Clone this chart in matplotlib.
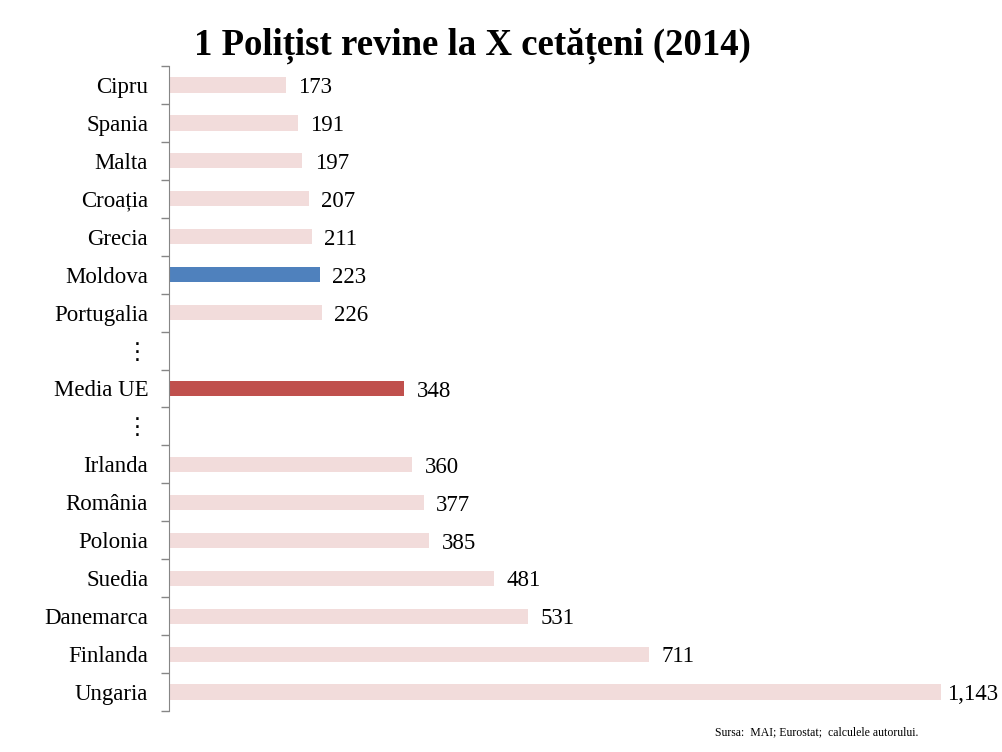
import matplotlib.pyplot as plt
import numpy as np

# Data
labels = ['Cipru', 'Spania', 'Malta', 'Croația', 'Grecia', 'Moldova', 'Portugalia',
          '⋮', 'Media UE', '⋮',
          'Irlanda', 'România', 'Polonia', 'Suedia', 'Danemarca', 'Finlanda', 'Ungaria']
values = [173, 191, 197, 207, 211, 223, 226,
          None, 348, None,
          360, 377, 385, 481, 531, 711, 1143]
colors = {'Moldova': '#4F81BD', 'Media UE': '#C0504D'}
default_color = '#F2DCDB'

fonts = ['Liberation Serif', 'DejaVu Serif', 'DejaVu Sans']
plt.rcParams['font.family'] = fonts

fig = plt.figure(figsize=(10.02, 7.52), dpi=100)
ax = fig.add_axes([169 / 1002, 41 / 752, 829 / 1002, 645 / 752])

y = np.arange(len(labels))
xmax = 829 / (772 / 1143)
for i, (lab, v) in enumerate(zip(labels, values)):
    if v is None:
        continue
    ax.barh(i, v, height=0.4, color=colors.get(lab, default_color))
    txt = f'{v:,}'
    if v == max(x for x in values if x is not None):
        ax.annotate(txt, (xmax, i), xytext=(0, -2), textcoords='offset points',
                    ha='right', va='center', fontsize=16.5)
    else:
        ax.annotate(txt, (v, i), xytext=(9, -2), textcoords='offset points',
                    ha='left', va='center', fontsize=16.5)

ax.set_ylim(len(labels) - 0.5, -0.5)
ax.set_xlim(0, xmax)
ax.set_yticks(y)
ax.set_yticklabels(labels, fontsize=16.5)
ax.set_yticks(np.arange(-0.5, len(labels)), minor=True)
ax.tick_params(axis='y', which='major', length=0, pad=15)
ax.tick_params(axis='y', which='minor', length=6, color='#868686', width=1)
ax.set_xticks([])
for s in ['top', 'right', 'bottom']:
    ax.spines[s].set_visible(False)
ax.spines['left'].set_color('#868686')

fig.text(472 / 1002, 1 - 46 / 752, '1 Polițist revine la X cetățeni (2014)',
         ha='center', va='center', fontsize=26.5, fontweight='bold')
fig.text(715 / 1002, 1 - 732 / 752, 'Sursa:  MAI; Eurostat;  calculele autorului.',
         ha='left', va='center', fontsize=8.5)

fig.savefig('out.png', dpi=100)
